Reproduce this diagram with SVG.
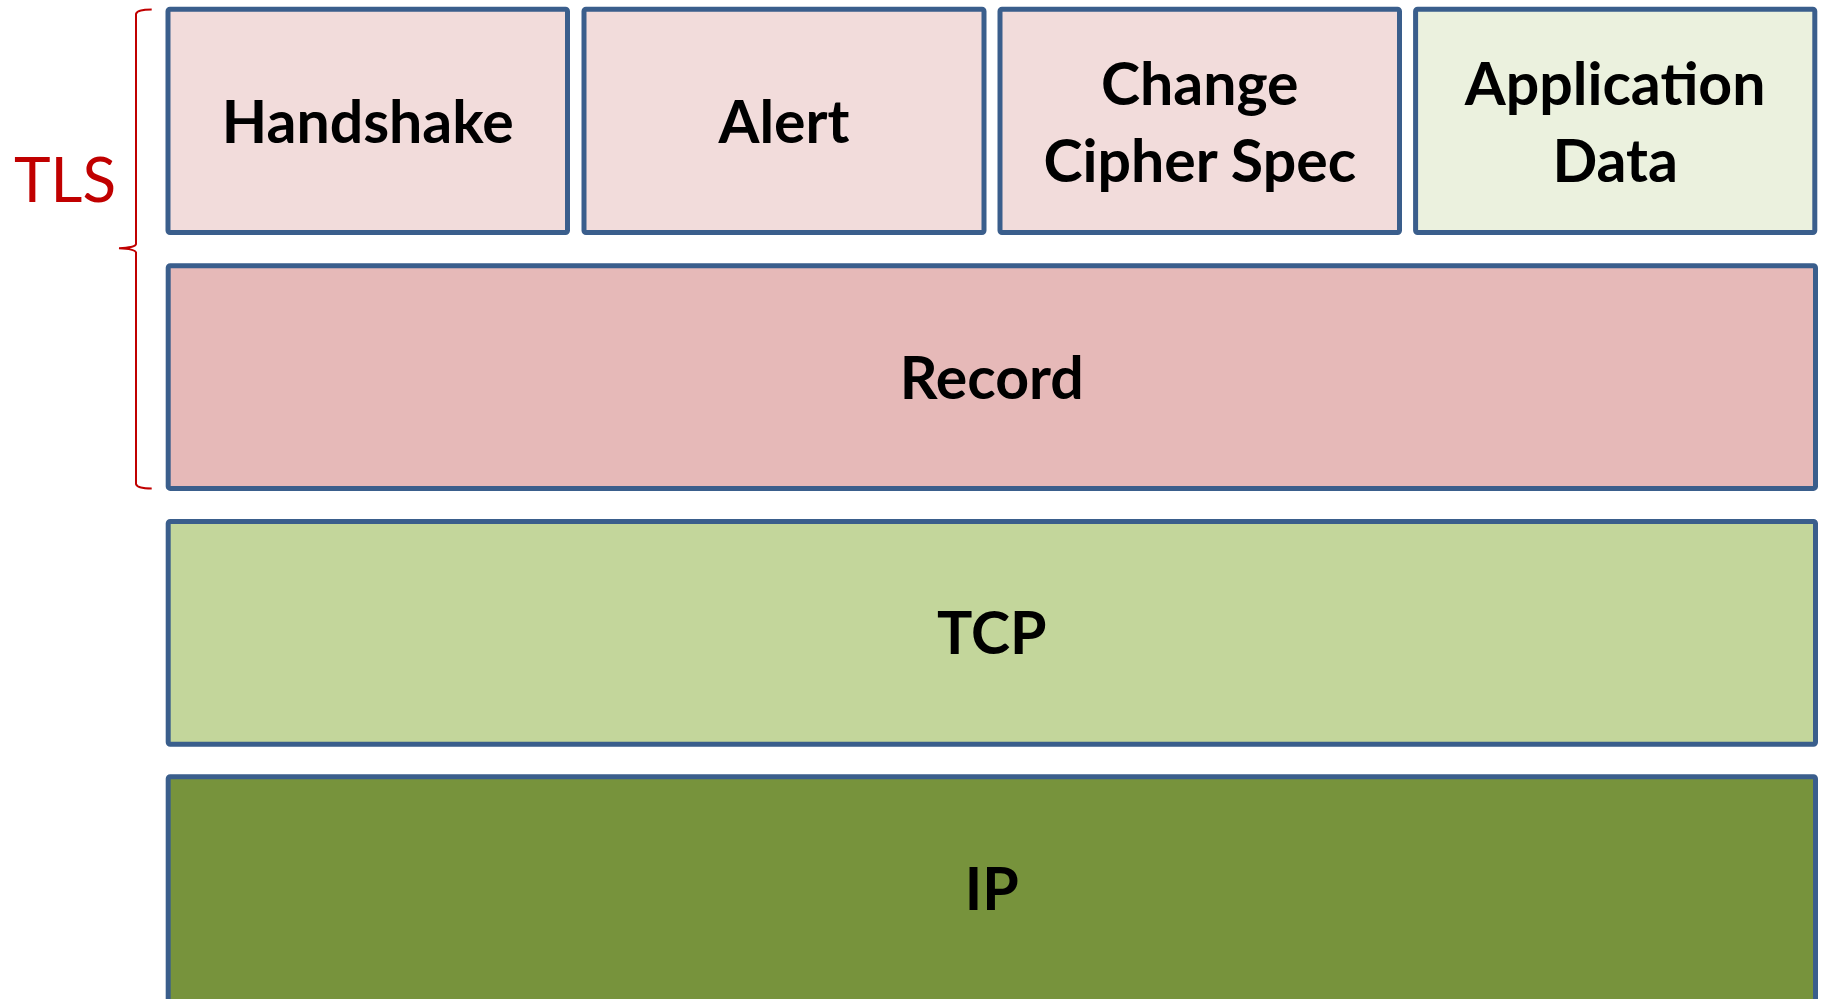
<svg xmlns="http://www.w3.org/2000/svg" width="1825" height="999" viewBox="0 0 1825 999">
<style>
.box{stroke:#3A5E8C;stroke-width:5;stroke-linejoin:round}
.lbl{font-family:Lato,"Open Sans","Liberation Sans",sans-serif;font-weight:700;font-size:59px;fill:#000;text-anchor:middle}
.tls{font-family:Lato,"Open Sans","Liberation Sans",sans-serif;font-size:62px;fill:#C00000}
.pink{fill:#F2DCDB}.rec{fill:#E6B9B8}.lg{fill:#EBF1DE}.tcp{fill:#C3D69B}.ip{fill:#77933C}
</style>
<rect width="1825" height="999" fill="#fff"/>
<g id="tls-label">
<path d="M151.7,9.5 Q137,9.5 136,14 L136,244 Q135.5,247.5 119,248.2 Q135.5,249 136,252.5 L136,484 Q137,488.5 151.7,488.5" fill="none" stroke="#C00000" stroke-width="2"/>
<text class="tls" x="14" y="201.7">TLS</text>
</g>
<g id="handshake">
<rect class="box pink" x="168" y="9.2" width="399.5" height="223.3" rx="2"/>
<text class="lbl" x="367.8" y="143.3">Handshake</text>
</g>
<g id="alert">
<rect class="box pink" x="584" y="9.2" width="400" height="223.3" rx="2"/>
<text class="lbl" x="784" y="143.3">Alert</text>
</g>
<g id="ccs">
<rect class="box pink" x="1000" y="9.2" width="399.5" height="223.3" rx="2"/>
<text class="lbl" x="1199.8" y="105">Change</text>
<text class="lbl" x="1199.8" y="181.5">Cipher Spec</text>
</g>
<g id="appdata">
<rect class="box lg" x="1415.6" y="9.2" width="399.2" height="223.3" rx="2"/>
<text class="lbl" x="1615.2" y="105">Application</text>
<text class="lbl" x="1615.2" y="181.5">Data</text>
</g>
<g id="record">
<rect class="box rec" x="168.2" y="265.8" width="1647.3" height="222.6" rx="2"/>
<text class="lbl" x="991.8" y="398.5">Record</text>
</g>
<g id="tcp">
<rect class="box tcp" x="168.2" y="521.5" width="1647.3" height="222.8" rx="2"/>
<text class="lbl" x="991.8" y="654.3">TCP</text>
</g>
<g id="ip">
<rect class="box ip" x="168.2" y="776.8" width="1647.3" height="226" rx="2"/>
<text class="lbl" x="991.8" y="910.3">IP</text>
</g>
<g id="connectors"></g>
</svg>
